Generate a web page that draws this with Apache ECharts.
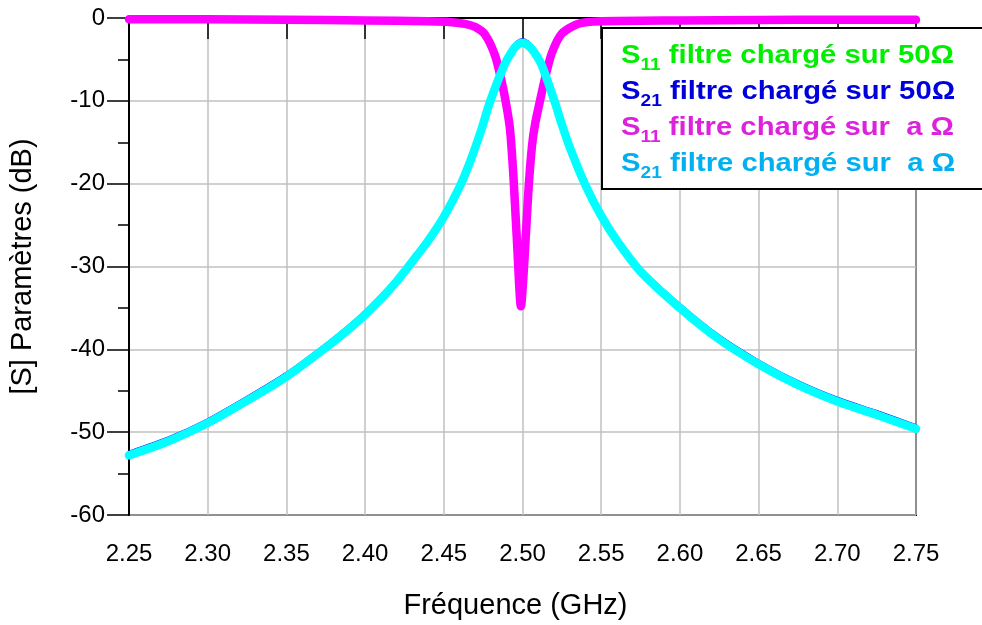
<!DOCTYPE html>
<html>
<head>
<meta charset="utf-8">
<script src="https://cdn.jsdelivr.net/npm/echarts@6/dist/echarts.min.js"></script>
<style>html,body{margin:0;padding:0;background:#fff;}#c{width:982px;height:625px;}</style>
</head>
<body>
<div id="c"></div>
<script>
// ---- data ----
const xTicks = [2.25, 2.30, 2.35, 2.40, 2.45, 2.50, 2.55, 2.60, 2.65, 2.70, 2.75];
const yTicks = [0, -10, -20, -30, -40, -50, -60];

const freqS21 = [2.25, 2.275, 2.30, 2.325, 2.35, 2.375, 2.39, 2.40, 2.41, 2.42, 2.43, 2.44, 2.45, 2.46, 2.467, 2.474, 2.479, 2.4884, 2.4931, 2.4965, 2.50, 2.5035, 2.5073, 2.5122, 2.5206, 2.5249, 2.53, 2.54, 2.55, 2.56, 2.575, 2.60, 2.625, 2.65, 2.675, 2.70, 2.725, 2.75];
const s21LoadA = [-52.8, -51.1, -48.9, -46.2, -43.3, -39.8, -37.5, -35.8, -33.9, -31.8, -29.4, -26.9, -24.0, -20.4, -17.2, -13.4, -10.3, -5.7, -4.1, -3.3, -3.0, -3.3, -4.1, -5.7, -10.2, -12.8, -15.6, -20.2, -23.9, -26.9, -30.6, -35.0, -38.8, -41.8, -44.3, -46.3, -47.9, -49.6];
const s21Load50 = [-52.4, -50.7, -48.5, -45.8, -42.9, -39.4, -37.1, -35.4, -33.5, -31.4, -29.0, -26.5, -23.6, -20.0, -16.8, -13.0, -9.9, -5.3, -3.7, -2.9, -2.6, -2.9, -3.7, -5.3, -9.8, -12.4, -15.2, -19.8, -23.5, -26.5, -30.2, -34.6, -38.4, -41.4, -43.9, -45.9, -47.5, -49.2];

const freqS11 = [2.25, 2.30, 2.35, 2.40, 2.44, 2.455, 2.4635, 2.47, 2.4762, 2.4825, 2.4868, 2.49, 2.4921, 2.4942, 2.4965, 2.499, 2.5013, 2.5037, 2.506, 2.508, 2.5111, 2.5143, 2.5185, 2.5249, 2.5355, 2.55, 2.60, 2.65, 2.70, 2.75];
const s11LoadA = [-0.15, -0.15, -0.2, -0.3, -0.4, -0.5, -0.7, -1.1, -2.0, -4.5, -7.7, -10.8, -13.5, -19.0, -27.0, -34.8, -29.0, -21.0, -15.5, -12.8, -10.0, -7.3, -4.3, -1.9, -0.7, -0.4, -0.3, -0.25, -0.2, -0.2];
const s11Load50 = [-0.1, -0.1, -0.15, -0.25, -0.35, -0.45, -0.65, -1.0, -1.9, -4.4, -7.6, -10.7, -13.4, -18.9, -26.9, -34.6, -28.9, -20.9, -15.4, -12.7, -9.9, -7.2, -4.2, -1.8, -0.65, -0.35, -0.25, -0.2, -0.15, -0.15];

const names = ['S11 filtre chargé sur 50Ω', 'S21 filtre chargé sur 50Ω', 'S11 filtre chargé sur  a Ω', 'S21 filtre chargé sur  a Ω'];
const legendSubs = ['11', '21', '11', '21'];
const legendRest = [' filtre chargé sur 50Ω', ' filtre chargé sur 50Ω', ' filtre chargé sur  a Ω', ' filtre chargé sur  a Ω'];
const legendColors = ['#00ee00', '#0000dd', '#dd22dd', '#00b0f0'];
const curveColors = ['#00ff00', '#0000ff', '#ff00ff', '#00ffff'];

// ---- chart ----
const FONT = '"Liberation Sans", Arial, sans-serif';
const pairs = (xs, ys) => xs.map((x, i) => [x, ys[i]]);
const chart = echarts.init(document.getElementById('c'), null, {renderer: 'canvas'});

const lineTops = [38, 74, 110, 145.5];
const legendTexts = legendSubs.map((s, i) => ({
  type: 'text',
  z: 102,
  x: 0, y: lineTops[i],
  style: {
    text: '{m|S}{s|' + s + '}{m|' + legendRest[i] + '}',
    fill: legendColors[i],
    verticalAlign: 'top',
    align: 'left',
    rich: {
      m: {fontFamily: FONT, fontWeight: 'bold', fontSize: 26, lineHeight: 36, fill: legendColors[i]},
      s: {fontFamily: FONT, fontWeight: 'bold', fontSize: 17, lineHeight: 12, verticalAlign: 'bottom', fill: legendColors[i]}
    }
  }
}));

const lineBase = {type: 'line', showSymbol: false, symbol: 'none', smooth: 0.25};

const option = {
  animation: false,
  backgroundColor: '#fff',
  grid: {left: 129, right: 66, top: 18, bottom: 109, show: true, borderColor: '#000', borderWidth: 2, containLabel: false},
  xAxis: {
    type: 'value', min: 2.25, max: 2.75, interval: 0.05,
    name: 'Fréquence (GHz)', nameLocation: 'middle', nameGap: 76,
    nameTextStyle: {fontFamily: FONT, fontSize: 29, color: '#000', padding: [0, 14, 0, 0]},
    axisLine: {show: true, lineStyle: {color: '#000', width: 2}},
    axisTick: {show: true, length: 21, lineStyle: {color: '#000', width: 1.5}},
    axisLabel: {margin: 27, fontFamily: FONT, fontSize: 24, color: '#000', formatter: v => v.toFixed(2)},
    splitLine: {show: true, lineStyle: {color: '#c0c0c0', width: 1.5}}
  },
  yAxis: {
    type: 'value', min: -60, max: 0, interval: 10,
    name: '[S] Paramètres (dB)', nameLocation: 'middle', nameGap: 92,
    nameTextStyle: {fontFamily: FONT, fontSize: 29, color: '#000'},
    axisLine: {show: true, lineStyle: {color: '#000', width: 2}},
    axisTick: {show: true, length: 22, lineStyle: {color: '#000', width: 1.5}},
    minorTick: {show: true, splitNumber: 2, length: 11, lineStyle: {color: '#000', width: 1.5}},
    axisLabel: {margin: 24, fontFamily: FONT, fontSize: 24, color: '#000'},
    splitLine: {show: true, lineStyle: {color: '#c0c0c0', width: 1.5}}
  },
  series: [
    Object.assign({name: names[0], data: pairs(freqS11, s11Load50), z: 2,
     lineStyle: {color: curveColors[0], width: 2, cap: 'round', join: 'round'}}, lineBase),
    Object.assign({name: names[1], data: pairs(freqS21, s21Load50), z: 3,
     lineStyle: {color: curveColors[1], width: 3, cap: 'round', join: 'round'}}, lineBase),
    Object.assign({name: names[2], data: pairs(freqS11, s11LoadA), z: 4,
     lineStyle: {color: curveColors[2], width: 8.5, cap: 'round', join: 'round'}}, lineBase),
    Object.assign({name: names[3], data: pairs(freqS21, s21LoadA), z: 5,
     lineStyle: {color: curveColors[3], width: 8.5, cap: 'round', join: 'round'}}, lineBase)
  ],
  graphic: [
    {type: 'rect', z: 100, shape: {x: 602, y: 28, width: 400, height: 161},
     style: {fill: '#fff', stroke: '#000', lineWidth: 2}},
    {type: 'group', z: 101, x: 621, y: 0, scaleX: 1.125, scaleY: 1, children: legendTexts}
  ]
};
chart.setOption(option);
</script>
</body>
</html>
